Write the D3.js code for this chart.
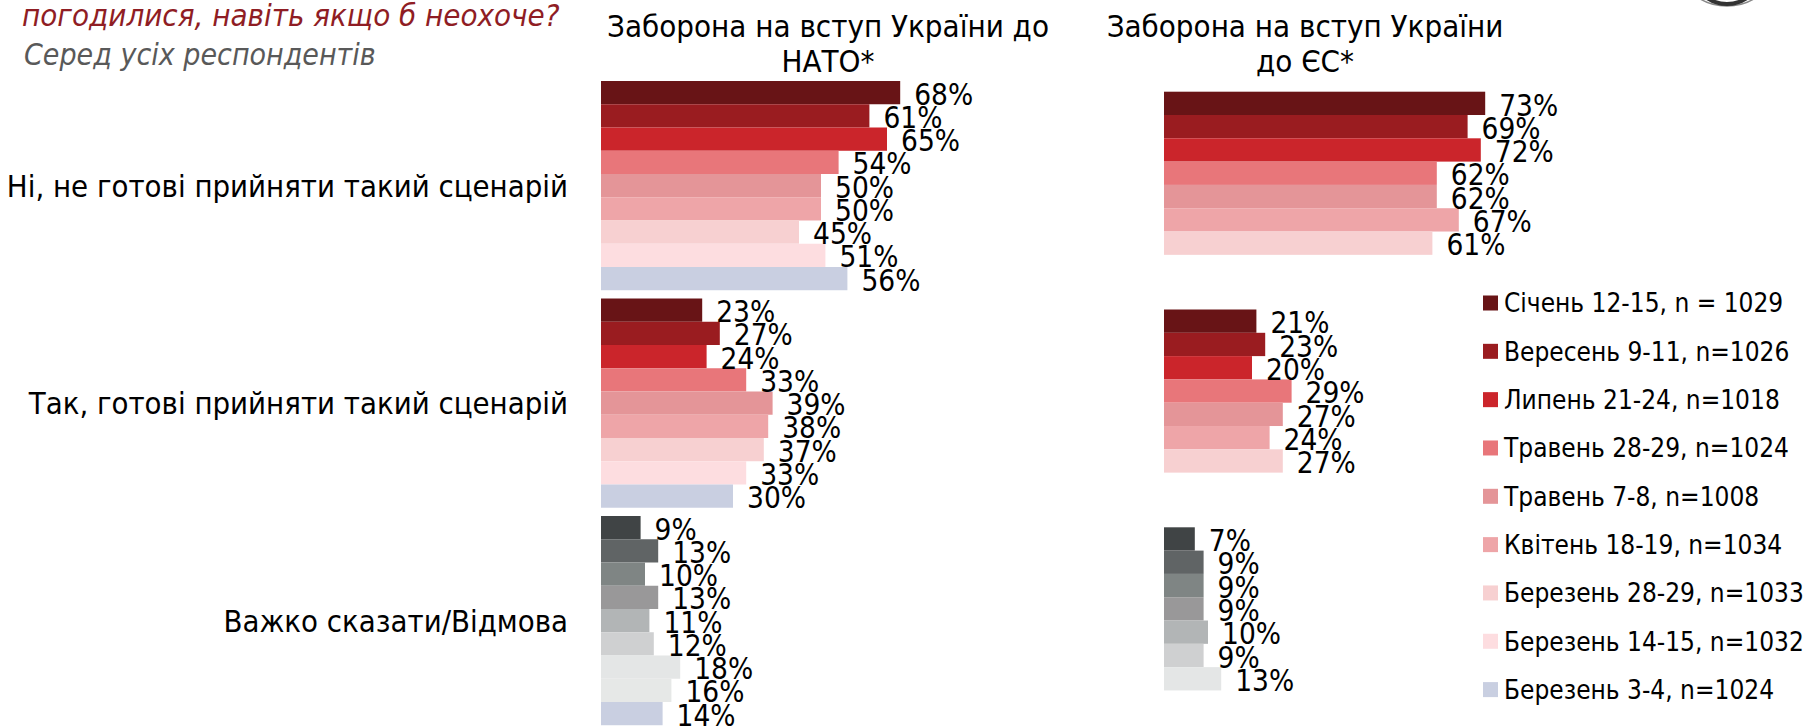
<!DOCTYPE html>
<html>
<head>
<meta charset="utf-8">
<script src="https://cdn.jsdelivr.net/npm/d3@7"></script>
<style>
	body { margin: 0; background: #fff; }
	svg text { font-family: "DejaVu Sans Condensed", "DejaVu Sans", sans-serif; font-stretch: condensed; }
</style>
</head>
<body>
<svg></svg>
<script>
// data
const categories = [
	"Ні, не готові прийняти такий сценарій",
	"Так, готові прийняти такий сценарій",
	"Важко сказати/Відмова",
];
const series = [
	"Січень 12-15, n = 1029",
	"Вересень 9-11, n=1026",
	"Липень 21-24, n=1018",
	"Травень 28-29, n=1024",
	"Травень 7-8, n=1008",
	"Квітень 18-19, n=1034",
	"Березень 28-29, n=1033",
	"Березень 14-15, n=1032",
	"Березень 3-4, n=1024",
];
const natoNo = [68, 61, 65, 54, 50, 50, 45, 51, 56];
const natoYes = [23, 27, 24, 33, 39, 38, 37, 33, 30];
const natoHard = [9, 13, 10, 13, 11, 12, 18, 16, 14];
// EU question was asked only in the first 7 waves
const euNo = [73, 69, 72, 62, 62, 67, 61];
const euYes = [21, 23, 20, 29, 27, 24, 27];
const euHard = [7, 9, 9, 9, 10, 9, 13];

const titleNato = ["Заборона на вступ України до", "НАТО*"];
const titleEu = ["Заборона на вступ України", "до ЄС*"];

// colours
const redColors = ["#681416", "#9a1c20", "#cb252b", "#e8767a", "#e49598", "#eea5a8", "#f7d0d1", "#fddde0", "#c9cfe1"];
const grayColors = ["#404445", "#606465", "#7f8584", "#999899", "#b2b5b6", "#cfd0d1", "#e4e6e6", "#e6e8e7", "#c9cfe1"];

const SVGsize = { w: 1804, h: 726 };
const svg = d3.select("svg").attr("width", SVGsize.w).attr("height", SVGsize.h);

// header texts
svg.append("text")
	.attr("x", 22).attr("y", 26)
	.attr("font-size", 31).attr("font-style", "italic")
	.attr("fill", "#8f1d24")
	.text("погодилися, навіть якщо б неохоче?");
svg.append("text")
	.attr("x", 24).attr("y", 65)
	.attr("font-size", 30).attr("font-style", "italic")
	.attr("fill", "#595959")
	.text("Серед усіх респондентів");

// partial logo in the top right corner
svg.append("ellipse")
	.attr("cx", 1727).attr("cy", -32)
	.attr("rx", 46).attr("ry", 38)
	.attr("fill", "none")
	.attr("stroke", "#888").attr("stroke-width", 1.5);
svg.append("path")
	.attr("d", d3.arc()({ innerRadius: 34, outerRadius: 38, startAngle: Math.PI * 0.8, endAngle: Math.PI * 1.2 }))
	.attr("transform", "translate(1727,-32)")
	.attr("fill", "#333");

function drawPanel(valueSets, nSeries, x0, yTop, step, bandPad, title, titleX) {
	let scaleX = d3.scaleLinear().domain([0, 100]).range([x0, x0 + 440]);
	let scaleY = d3
		.scaleBand()
		.domain(categories)
		.range([yTop, yTop + step * (3 - bandPad)])
		.paddingInner(bandPad)
		.paddingOuter(0);
	let scaleS = d3
		.scaleBand()
		.domain(series.slice(0, nSeries))
		.range([0, scaleY.bandwidth()]);

	let g = svg.append("g");

	categories.forEach((cat, ci) => {
		let colors = ci == 2 ? grayColors : redColors;
		let rows = valueSets[ci].map((v, i) => ({ s: series[i], v: v, c: colors[i] }));
		let cg = g.append("g").attr("transform", `translate(0, ${scaleY(cat)})`);

		cg.selectAll("rect")
			.data(rows)
			.join("rect")
			.attr("x", scaleX(0))
			.attr("y", (d) => scaleS(d.s))
			.attr("width", (d) => scaleX(d.v) - scaleX(0))
			.attr("height", scaleS.bandwidth())
			.attr("fill", (d) => d.c);

		cg.selectAll("text")
			.data(rows)
			.join("text")
			.attr("x", (d) => scaleX(d.v) + 14)
			.attr("y", (d) => scaleS(d.s) + scaleS.bandwidth() + 0.5)
			.attr("font-size", 29.5)
			.attr("fill", "#000")
			.text((d) => d.v + "%");
	});

	let t = svg.append("text")
		.attr("text-anchor", "middle")
		.attr("font-size", 31)
		.attr("fill", "#000");
	title.forEach((line, i) => {
		t.append("tspan").attr("x", titleX).attr("y", 37 + i * 35).text(line);
	});

	return scaleY;
}

let yNato = drawPanel([natoNo, natoYes, natoHard], 9, 601, 81, 217.5, 0.038, titleNato, 828);
drawPanel([euNo, euYes, euHard], 7, 1164, 91.7, 217.8, 0.251, titleEu, 1305);

// category labels
svg.append("g")
	.selectAll("text")
	.data(categories)
	.join("text")
	.attr("x", 568)
	.attr("y", (d) => yNato(d) + yNato.bandwidth() / 2)
	.attr("dy", "0.36em")
	.attr("text-anchor", "end")
	.attr("font-size", 30.8)
	.attr("fill", "#000")
	.text((d) => d);

// legend
let legendY = d3.scalePoint().domain(series).range([303, 689.6]);
let legend = svg.append("g")
	.selectAll("g")
	.data(series)
	.join("g")
	.attr("transform", (d) => `translate(1483, ${legendY(d)})`);
legend.append("rect")
	.attr("x", 0).attr("y", -7.5)
	.attr("width", 15).attr("height", 15)
	.attr("fill", (d, i) => redColors[i]);
legend.append("text")
	.attr("x", 21).attr("dy", "0.36em")
	.attr("font-size", 26)
	.attr("fill", "#000")
	.text((d) => d);
</script>
</body>
</html>
